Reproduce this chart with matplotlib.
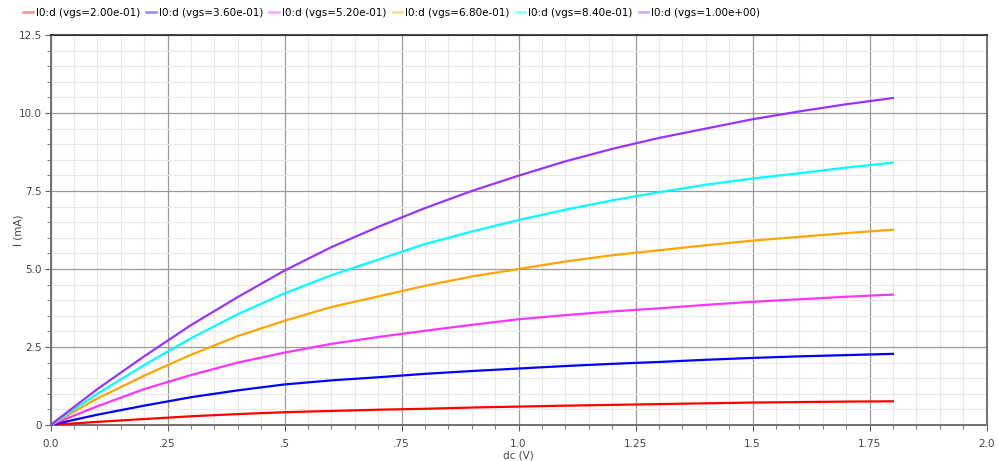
import matplotlib
matplotlib.use('Agg')
import matplotlib.pyplot as plt
from matplotlib.ticker import MultipleLocator, FixedLocator, FixedFormatter

# sweep of drain voltage (V)
vds = [0.0, 0.1, 0.2, 0.3, 0.4, 0.5, 0.6, 0.7, 0.8, 0.9,
       1.0, 1.1, 1.2, 1.3, 1.4, 1.5, 1.6, 1.7, 1.8]

# drain current (mA) for each gate voltage
i_vgs_020 = [0, 0.10, 0.19, 0.28, 0.35, 0.41, 0.45, 0.49, 0.52, 0.56,
             0.59, 0.62, 0.645, 0.67, 0.695, 0.72, 0.735, 0.75, 0.76]
i_vgs_036 = [0, 0.33, 0.62, 0.89, 1.11, 1.30, 1.43, 1.53, 1.64, 1.73,
             1.81, 1.89, 1.96, 2.02, 2.09, 2.15, 2.20, 2.24, 2.28]
i_vgs_052 = [0, 0.60, 1.15, 1.60, 2.00, 2.32, 2.60, 2.82, 3.02, 3.21,
             3.39, 3.52, 3.64, 3.74, 3.85, 3.95, 4.03, 4.11, 4.18]
i_vgs_068 = [0, 0.85, 1.58, 2.25, 2.85, 3.34, 3.78, 4.12, 4.46, 4.76,
             5.00, 5.24, 5.44, 5.60, 5.76, 5.91, 6.03, 6.15, 6.26]
i_vgs_084 = [0, 1.00, 1.92, 2.78, 3.55, 4.22, 4.80, 5.30, 5.80, 6.20,
             6.57, 6.90, 7.20, 7.46, 7.70, 7.90, 8.07, 8.25, 8.41]
i_vgs_100 = [0, 1.15, 2.20, 3.20, 4.10, 4.95, 5.70, 6.35, 6.95, 7.50,
             7.99, 8.45, 8.85, 9.20, 9.50, 9.80, 10.05, 10.28, 10.48]

labels = ['I0:d (vgs=2.00e-01)', 'I0:d (vgs=3.60e-01)', 'I0:d (vgs=5.20e-01)',
          'I0:d (vgs=6.80e-01)', 'I0:d (vgs=8.40e-01)', 'I0:d (vgs=1.00e+00)']
colors = ['#ff0000', '#0000ff', '#ff33ff', '#ffa500', '#00ffff', '#9933ff']
series = [i_vgs_020, i_vgs_036, i_vgs_052, i_vgs_068, i_vgs_084, i_vgs_100]

x_ticks = [0, 0.25, 0.5, 0.75, 1.0, 1.25, 1.5, 1.75, 2.0]
x_ticklabels = ['0.0', '.25', '.5', '.75', '1.0', '1.25', '1.5', '1.75', '2.0']
y_ticks = [0, 2.5, 5.0, 7.5, 10.0, 12.5]
y_ticklabels = ['0', '2.5', '5.0', '7.5', '10.0', '12.5']

plt.rcParams['font.family'] = ['DejaVu Sans']
plt.rcParams['font.size'] = 7.5

fig = plt.figure(figsize=(9.98, 4.61), dpi=100)
ax = fig.add_axes([50.5/998, 36/461, 936/998, 390/461])

for y, c, lab in zip(series, colors, labels):
    ax.plot(vds, y, color=c, lw=1.6, label=lab, zorder=3)

ax.set_xlim(0, 2.0)
ax.set_ylim(0, 12.5)
ax.xaxis.set_major_locator(FixedLocator(x_ticks))
ax.xaxis.set_major_formatter(FixedFormatter(x_ticklabels))
ax.yaxis.set_major_locator(FixedLocator(y_ticks))
ax.yaxis.set_major_formatter(FixedFormatter(y_ticklabels))
ax.xaxis.set_minor_locator(MultipleLocator(0.05))
ax.yaxis.set_minor_locator(MultipleLocator(0.5))

ax.grid(True, which='major', color='#9a9a9a', lw=0.9, zorder=1)
ax.grid(True, which='minor', color='#e8e8e8', lw=0.8, zorder=0)
ax.tick_params(which='major', length=4, color='#606060', labelcolor='#444444', pad=2)
ax.tick_params(which='minor', length=3, color='#606060')
ax.tick_params(axis='x', pad=6)

for s in ['left', 'bottom', 'right']:
    ax.spines[s].set_color('#707070')
    ax.spines[s].set_linewidth(1.4)
ax.spines['top'].set_color('#222222')
ax.spines['top'].set_linewidth(1.2)

ax.set_xlabel('dc (V)', color='#444444', labelpad=1)
ax.set_ylabel('I (mA)', color='#444444')
ax.yaxis.set_label_coords(-27/936, 0.5)

leg = fig.legend(*ax.get_legend_handles_labels(), loc='upper left', ncol=6,
                 bbox_to_anchor=(0.014, 1.003), frameon=False, handlelength=0.9,
                 handletextpad=0.3, columnspacing=0.6, fontsize=7.5)
for h in leg.legend_handles:
    h.set_alpha(0.45)
    h.set_linewidth(1.8)

fig.savefig('out.png', dpi=100)
